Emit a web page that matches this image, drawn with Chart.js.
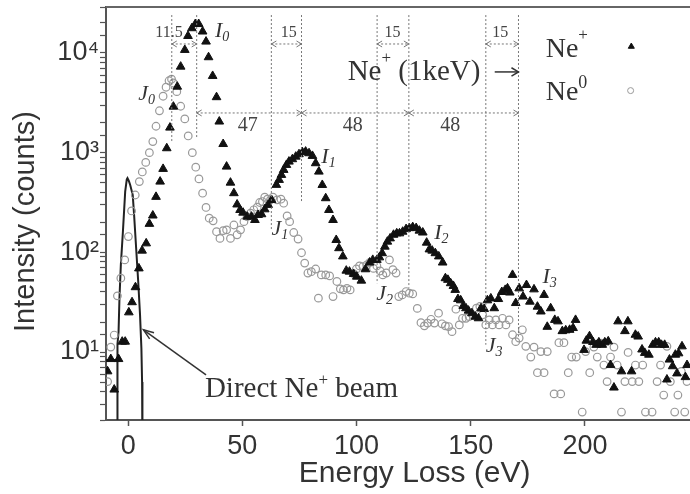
<!DOCTYPE html>
<html>
<head>
<meta charset="utf-8">
<script src="https://cdn.jsdelivr.net/npm/chart.js@4.4.1/dist/chart.umd.min.js"></script>
<style>
  html, body { margin: 0; padding: 0; background: #fff; overflow: hidden; }
  canvas { display: block; }
</style>
</head>
<body>
<canvas id="lossChart" width="690" height="494"></canvas>
<script>
// Ne+ scattered ions (filled triangles)
const nePlusE = [-9.0,-7.6,-6.1,-4.2,-2.6,-1.3,0.3,1.7,3.2,4.7,6.1,7.9,9.3,10.8,12.2,14.0,15.3,16.9,18.3,19.8,
  21.5,23.0,24.8,26.2,27.9,29.4,30.9,32.6,34.1,35.2,37.0,38.7,39.9,41.6,43.1,44.8,46.3,47.7,49.0,50.3,
  52.1,54.0,55.5,56.9,58.4,59.8,61.3,62.8,64.9,66.1,67.1,68.1,69.3,70.4,71.9,73.4,74.8,76.3,77.7,79.2,
  80.7,82.1,83.5,85.0,86.5,87.9,89.7,91.1,92.3,94.0,95.5,96.9,98.7,100.1,102.1,103.9,105.7,107.1,108.9,110.0,
  111.2,112.4,113.5,114.7,116.2,117.6,118.8,120.2,121.7,123.1,124.6,126.1,127.5,129.0,130.7,131.9,133.1,134.5,136.0,137.7,
  138.9,140.0,141.2,142.4,143.2,144.4,145.6,146.7,147.9,149.0,150.5,152.0,153.4,154.5,155.9,157.3,158.8,160.3,162.1,163.6,
  165.1,166.1,167.1,168.3,169.7,171.2,172.9,174.4,175.9,177.7,179.2,180.7,182.1,183.5,185.0,186.8,188.2,190.1,191.6,193.3,
  194.8,195.9,199.6,200.6,202.0,203.5,204.9,206.1,207.6,208.7,210.2,211.2,212.7,214.5,216.0,217.5,218.8,220.4,222.1,223.3,
  225.0,226.2,228.0,229.7,230.9,232.3,233.5,234.9,235.9,237.0,238.4,239.6,240.3,241.0,242.5,244.0,244.7];
const nePlusCounts = [6.4,8.5,4.2,8.5,12.7,12.7,25,31.6,44.7,69,104,123,193,234,360,512,687,1107,1782,2893,
  4590,7290,10720,14800,17700,19500,19500,16400,13000,9060,5880,3600,2050,1220,724,500,392,302,266,250,
  228,228,211,237,241,270,299,335,475,533,598,671,753,813,859,912,964,1010,1024,986,
  927,783,645,474,349,266,211,133,110,91,65.5,64,60.7,57,52,67.6,79,84,84,89,
  98,114,128,138,150,155,155,161,171,175,179,175,165,158,125,107,104,98,91,79,
  55,53,49,46,42,34,33,29,27.5,26,24.5,22.6,21.8,27.5,27,33,34.5,27.5,34,40,
  42,43.5,39.5,59.4,31,43.5,36,47,32,42.5,28.5,25.5,37.4,17.9,27.5,21,20.3,16.2,16.5,16.7,
  17.4,21,10.5,13,14.4,12.6,11.8,12.5,11.8,12.5,12.8,7.4,4.4,20.3,6.4,16.2,20.3,6.4,14.9,14.3,
  10.6,9.8,9.4,11.8,12.5,12.5,11.8,11.8,5.3,8.4,7.2,9.4,6.1,9.7,11.4,5.6,7.4];

// Ne0 scattered neutrals (open circles)
const neZeroE = [-9.0,-7.6,-6.1,-4.7,-3.2,-1.5,0.1,1.5,3.1,4.9,6.2,7.7,9.3,10.8,12.2,13.7,15.3,16.6,17.9,19.0,
  19.8,21.3,23.0,24.8,26.3,28.1,29.6,31.0,32.6,34.1,35.5,37.2,38.7,40.2,41.6,43.1,44.8,46.3,47.7,49.2,
  50.7,52.1,53.6,55.0,56.5,57.6,58.8,59.8,61.0,62.3,63.4,65.2,66.9,68.1,69.6,70.7,72.5,74.4,75.9,77.3,
  78.7,80.2,82.1,83.3,84.6,86.5,88.2,89.7,91.4,92.9,94.3,95.8,97.2,98.7,99.9,101.3,102.8,104.5,105.7,107.4,
  108.9,110.3,111.5,113.0,114.4,115.9,117.3,118.5,120.0,121.7,123.1,124.6,126.6,128.2,129.7,131.1,132.6,134.1,135.9,137.4,
  138.9,140.3,141.8,143.5,145.0,146.4,147.9,149.3,150.8,152.5,154.0,155.2,156.6,158.1,159.5,161.0,162.4,163.9,165.4,166.8,
  168.3,169.7,171.2,172.6,174.1,176.3,177.7,179.2,180.7,182.1,183.5,186.5,188.6,189.4,190.8,192.7,194.2,196.2,198.8,200.3,
  202.1,203.9,205.4,206.9,208.3,209.7,211.2,212.7,214.1,216.0,217.5,218.9,220.7,222.1,223.6,225.3,226.5,229.4,231.6,233.1,
  234.5,235.9,237.4,239.3,240.7,242.2,243.7,244.7];
const neZeroCounts = [5.05,11.2,14.8,36.6,55,84,144,260,376,512,640,798,1000,1290,1840,2630,3680,4530,5260,5450,
  5000,4090,2920,2180,1470,1000,714,545,392,282,220,207,161,138,165,168,138,188,150,168,
  203,228,247,267,284,316,323,357,341,336,357,336,341,311,232,203,158,136,99,78,
  62,64,68,34.7,59.4,59.4,58,36,51,43,42,43.5,42,61,68,73,72,75,79,69,
  73,65,59.4,62,84,67,62,36,37.4,40.4,38.9,38.3,27.4,19.7,18.3,19.5,21.3,19.5,24.5,19.2,
  18.3,18,16,26.9,18.7,21.8,21.8,22.7,23.6,27.5,28.6,23.6,18.7,21,18.7,21,18.7,21.8,18.7,21,
  14.9,12.7,13.8,16.7,11.4,8.9,11.2,6.2,10.1,6.2,10.1,3.8,12.4,3.8,12.4,6.2,8.9,8.9,2.5,10.1,
  6.2,11.2,8.9,12.3,7.4,5.05,8.9,11.2,7.4,2.5,5.05,9.9,5.05,7.4,5.05,7.4,2.5,2.5,5.05,7.4,
  3.7,11.4,5.05,2.5,3.7,6.4,2.5,5.05];

// direct Ne+ beam profile (solid line)
const beamE = [-10,-4.7,-4.7,-4.65,-4.2,-3.8,-3.2,-2.3,-1.3,-0.6,-0.3,0.3,0.9,2.0,2.6,3.5,4.4,5.2,5.8,6.1,6.2,6.3];
const beamCounts = [8.3,8.3,1.5,12,16,35,75,161,406,540,555,520,474,377,238,110,51,23.6,10.9,5,2.2,1];

const yMajor = [10, 100, 1000, 10000];
const yMajorLabels = ['10\u00b9', '10\u00b2', '10\u00b3', '10\u2074'];

// peak markers: dotted verticals, spacing arrows, names
const peakLineE = [19.1, 30.0, 62.7, 75.9, 109.0, 122.9, 156.6, 170.9];
const peakLineLow = [1250, 1400, 168, 313, 49, 44, 11.8, 14.3];
const peakLineTop = 24000;
const spacingSmall = [[19.1, 30.0, '11.5', 17.9], [62.7, 75.9, '15', 70.3], [109.0, 122.9, '15', 115.7], [156.6, 170.9, '15', 162.9]];
const spacingLarge = [[30.0, 75.9, '47', 52.4], [75.9, 122.9, '48', 98.3], [122.9, 170.9, '48', 141.0]];
const peakNames = [['I','0',38.0,14400], ['J','0',4.4,3380], ['I','1',84.6,794], ['J','1',62.8,150],
  ['I','2',134.0,135], ['J','2',108.6,33.4], ['I','3',181.4,49], ['J','3',156.6,10.1]];

const SANS = '"Liberation Sans", Arial, sans-serif';
const SERIF = '"Liberation Serif", "Times New Roman", serif';

function toXY(xs, ys){
  return xs.map((x, i) => ({x: x, y: ys[i]}));
}

function richText(ctx, parts, x, y){
  let cx = x;
  parts.forEach(p => {
    ctx.font = (p.italic ? 'italic ' : '') + p.size + 'px ' + SERIF;
    ctx.fillText(p.t, cx, y + (p.dy || 0));
    cx += ctx.measureText(p.t).width;
  });
  return cx;
}

function arrowHead(ctx, x, y, dir, size){
  ctx.beginPath();
  ctx.moveTo(x - dir * size, y - size * 0.6);
  ctx.lineTo(x, y);
  ctx.lineTo(x - dir * size, y + size * 0.6);
  ctx.stroke();
}

// no extra padding for tick labels: the frame must fill the canvas like the figure
function noScalePadding(s){
  s.paddingTop = 0;
  s.paddingBottom = 0;
  s.paddingLeft = 0;
  s.paddingRight = 0;
}

const annotations = {
  id: 'annotations',
  afterDatasetsDraw(chart){
    const ctx = chart.ctx;
    const xs = chart.scales.x, ys = chart.scales.y;
    const px = v => xs.getPixelForValue(v);
    const py = v => ys.getPixelForValue(v);
    const area = chart.chartArea;
    ctx.save();

    // top frame line
    ctx.strokeStyle = '#666';
    ctx.lineWidth = 2;
    ctx.beginPath();
    ctx.moveTo(area.left, area.top);
    ctx.lineTo(area.right, area.top);
    ctx.stroke();

    // dotted peak lines
    ctx.strokeStyle = '#777';
    ctx.lineWidth = 1;
    ctx.setLineDash([2, 2]);
    peakLineE.forEach((e, i) => {
      ctx.beginPath();
      ctx.moveTo(px(e), py(peakLineTop));
      ctx.lineTo(px(e), py(peakLineLow[i]));
      ctx.stroke();
    });

    ctx.fillStyle = '#444';
    ctx.textAlign = 'center';
    ctx.textBaseline = 'alphabetic';
    spacingSmall.forEach(s => {
      const y = py(12300);
      ctx.setLineDash([2, 2]);
      ctx.beginPath();
      ctx.moveTo(px(s[0]), y);
      ctx.lineTo(px(s[1]), y);
      ctx.stroke();
      ctx.setLineDash([]);
      arrowHead(ctx, px(s[0]), y, -1, 5);
      arrowHead(ctx, px(s[1]), y, 1, 5);
      ctx.font = '16px ' + SERIF;
      ctx.fillText(s[2], px(s[3]), py(14300));
    });
    spacingLarge.forEach(s => {
      const y = py(2500);
      ctx.setLineDash([2, 2]);
      ctx.beginPath();
      ctx.moveTo(px(s[0]), y);
      ctx.lineTo(px(s[1]), y);
      ctx.stroke();
      ctx.setLineDash([]);
      arrowHead(ctx, px(s[0]), y, -1, 5);
      arrowHead(ctx, px(s[1]), y, 1, 5);
      ctx.font = '20px ' + SERIF;
      ctx.fillText(s[2], px(s[3]), py(1630));
    });

    // peak names
    ctx.textAlign = 'left';
    ctx.fillStyle = '#333';
    peakNames.forEach(n => {
      richText(ctx, [{t: n[0], size: 22, italic: true}, {t: n[1], size: 14, italic: true, dy: 4}], px(n[2]), py(n[3]));
    });

    // incident ion label with arrow
    ctx.fillStyle = '#333';
    richText(ctx, [{t: 'Ne', size: 29}, {t: '+', size: 17, dy: -17}, {t: ' (1keV)', size: 29}], px(96.1), py(5370));
    ctx.strokeStyle = '#333';
    ctx.lineWidth = 1.5;
    const ay = py(6450);
    ctx.beginPath();
    ctx.moveTo(px(160.5), ay);
    ctx.lineTo(px(170.9), ay);
    ctx.stroke();
    arrowHead(ctx, px(170.9), ay, 1, 7);

    // direct beam label with arrow
    richText(ctx, [{t: 'Direct Ne', size: 29}, {t: '+', size: 17, dy: -12}, {t: ' beam', size: 29}], px(33.6), py(3.55));
    ctx.lineWidth = 1.5;
    const bx0 = px(34.1), by0 = py(5.9), bx1 = px(6.7), by1 = py(16.7);
    ctx.beginPath();
    ctx.moveTo(bx0, by0);
    ctx.lineTo(bx1, by1);
    ctx.stroke();
    const ang = Math.atan2(by1 - by0, bx1 - bx0);
    ctx.beginPath();
    ctx.moveTo(bx1 - 11 * Math.cos(ang - 0.35), by1 - 11 * Math.sin(ang - 0.35));
    ctx.lineTo(bx1, by1);
    ctx.lineTo(bx1 - 11 * Math.cos(ang + 0.35), by1 - 11 * Math.sin(ang + 0.35));
    ctx.stroke();

    // legend
    richText(ctx, [{t: 'Ne', size: 28}, {t: '+', size: 17, dy: -17}], px(182.8), py(9130));
    richText(ctx, [{t: 'Ne', size: 28}, {t: '0', size: 18, dy: -12}], px(182.8), py(3380));
    ctx.fillStyle = '#111';
    ctx.strokeStyle = '#111';
    ctx.lineWidth = 1;
    Chart.helpers.drawPoint(ctx, {pointStyle: 'triangle', radius: 3.5, rotation: 0, borderWidth: 1}, px(220.3), py(11600));
    ctx.fillStyle = 'rgba(0,0,0,0)';
    ctx.strokeStyle = '#999';
    Chart.helpers.drawPoint(ctx, {pointStyle: 'circle', radius: 3, rotation: 0, borderWidth: 1}, px(220.0), py(4190));

    ctx.restore();
  }
};

const ctx = document.getElementById('lossChart').getContext('2d');
const lossChart = new Chart(ctx, {
  type: 'scatter',
  data: {
    datasets: [
      {
        label: 'Ne+',
        data: toXY(nePlusE, nePlusCounts),
        pointStyle: 'triangle',
        pointRadius: 5,
        backgroundColor: '#111',
        borderColor: '#111',
        borderWidth: 1
      },
      {
        label: 'Ne0',
        data: toXY(neZeroE, neZeroCounts),
        pointStyle: 'circle',
        pointRadius: 3.8,
        backgroundColor: 'rgba(255,255,255,0)',
        borderColor: '#999',
        borderWidth: 1.2
      },
      {
        label: 'Direct beam',
        data: toXY(beamE, beamCounts),
        showLine: true,
        pointRadius: 0,
        borderColor: '#222',
        borderWidth: 2,
        tension: 0
      }
    ]
  },
  options: {
    responsive: false,
    animation: false,
    layout: { autoPadding: false, padding: { top: 7, right: 0, left: 0, bottom: 0 } },
    plugins: {
      legend: { display: false },
      tooltip: { enabled: false }
    },
    scales: {
      x: {
        type: 'linear',
        min: -9.7,
        max: 246,
        ticks: { stepSize: 50, includeBounds: false, maxRotation: 0, padding: 4,
                 color: '#333', font: { family: SANS, size: 27 } },
        grid: { drawOnChartArea: false, tickLength: 6, tickWidth: 1.5, tickColor: '#555' },
        border: { color: '#555', width: 2 },
        title: { display: true, text: '    Energy Loss (eV)', color: '#333',
                 font: { family: SANS, size: 30, lineHeight: 1.2 }, padding: { top: 0, bottom: 2 } },
        afterFit: s => { noScalePadding(s); s.height = 74; }
      },
      y: {
        type: 'logarithmic',
        min: 2.08,
        max: 28900,
        ticks: {
          autoSkip: false,
          padding: 1,
          color: '#333',
          font: { family: SANS, size: 27 },
          callback: v => {
            const i = yMajor.findIndex(m => Math.abs(v - m) / m < 1e-6);
            return i >= 0 ? yMajorLabels[i] : '';
          }
        },
        grid: { drawOnChartArea: false, tickLength: 6, tickWidth: 1.2, tickColor: '#555' },
        border: { color: '#555', width: 2 },
        title: { display: true, text: 'Intensity (counts)  ', color: '#333',
                 font: { family: SANS, size: 29, lineHeight: 1.2 }, padding: { top: 9, bottom: 0 } },
        afterFit: s => { noScalePadding(s); s.width = 106; }
      }
    }
  },
  plugins: [annotations]
});
</script>
</body>
</html>
